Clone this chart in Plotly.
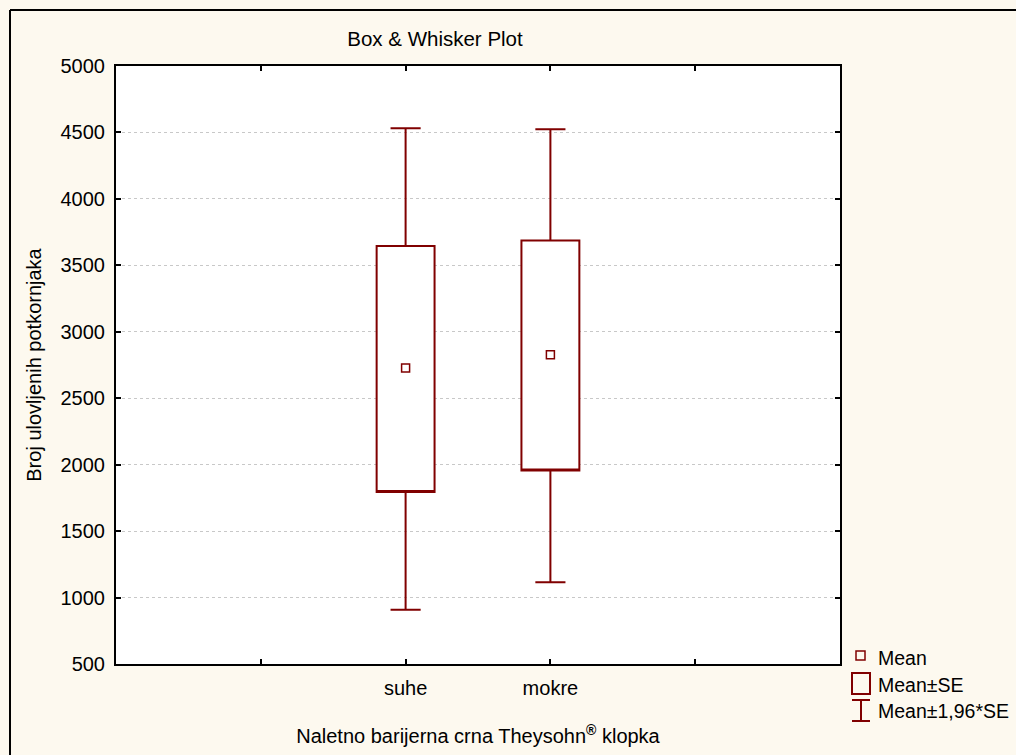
import plotly.graph_objects as go

# ---- data ----
categories = ["suhe", "mokre"]
mean_vals = [2728, 2828]
se_low = [1795, 1956]        # Mean - SE
se_high = [3646, 3686]       # Mean + SE
ci_low = [908, 1116]         # Mean - 1.96*SE
ci_high = [4531, 4524]       # Mean + 1.96*SE

y_ticks = [500, 1000, 1500, 2000, 2500, 3000, 3500, 4000, 4500, 5000]
legend_labels = ["Mean", "Mean±SE", "Mean±1,96*SE"]

# categories sit at slots 2..N+1 of a numeric axis spanning 0..N+3 (one empty slot each side)
cat_pos = [i + 2 for i in range(len(categories))]
slot_ticks = list(range(1, len(categories) + 3))

RED = "#800000"
BG = "#FDF9EF"
FONT = "Arial, Liberation Sans, sans-serif"

fig = go.Figure()

for i, c in enumerate(categories):
    fig.add_trace(go.Box(
        x=[cat_pos[i]],
        q1=[se_low[i]], median=[se_low[i]], q3=[se_high[i]],
        lowerfence=[ci_low[i]], upperfence=[ci_high[i]],
        width=0.4, whiskerwidth=0.52,
        fillcolor="white",
        line=dict(color=RED, width=2),
        showlegend=False, hoverinfo="skip", name=c,
    ))

fig.add_trace(go.Scatter(
    x=cat_pos, y=mean_vals, mode="markers",
    marker=dict(symbol="square-open", size=8, color=RED, line=dict(width=1.5, color=RED)),
    showlegend=False, hoverinfo="skip", name="Mean",
))

# ---- helpers for paper-coordinate decorations ----
L, R, T, B = 116, 840, 66, 664
def px(xp):
    return (xp - L) / (R - L)
def py(yp):
    return (B - yp) / (B - T)

shapes = []
# outer frame (only left and top edges visible in the reference)
shapes.append(dict(type="line", xref="paper", yref="paper",
                   x0=px(10), x1=px(1030), y0=py(10), y1=py(10),
                   line=dict(color="black", width=2), layer="below"))
shapes.append(dict(type="line", xref="paper", yref="paper",
                   x0=px(10), x1=px(10), y0=py(10), y1=py(770),
                   line=dict(color="black", width=2), layer="below"))

# manual legend symbols
shapes.append(dict(type="rect", xref="paper", yref="paper",
                   x0=px(856), x1=px(865), y0=py(660), y1=py(651),
                   line=dict(color=RED, width=1.5)))
shapes.append(dict(type="rect", xref="paper", yref="paper",
                   x0=px(852), x1=px(870), y0=py(694), y1=py(673),
                   line=dict(color=RED, width=2)))
shapes.append(dict(type="line", xref="paper", yref="paper",
                   x0=px(861), x1=px(861), y0=py(721), y1=py(700),
                   line=dict(color=RED, width=2)))
shapes.append(dict(type="line", xref="paper", yref="paper",
                   x0=px(852), x1=px(870), y0=py(700), y1=py(700),
                   line=dict(color=RED, width=2)))
shapes.append(dict(type="line", xref="paper", yref="paper",
                   x0=px(852), x1=px(870), y0=py(721), y1=py(721),
                   line=dict(color=RED, width=2)))

annotations = []
for lbl, yc in zip(legend_labels, [658, 685, 711]):
    annotations.append(dict(text=lbl, xref="paper", yref="paper",
                            x=px(876), y=py(yc), xanchor="left", yanchor="middle",
                            showarrow=False, font=dict(size=19.5, color="black", family=FONT)))

fig.update_layout(
    width=1016, height=755,
    margin=dict(l=L, r=1016 - R, t=T, b=755 - B),
    paper_bgcolor=BG, plot_bgcolor="white",
    font=dict(family=FONT, size=20, color="black"),
    title=dict(text="Box & Whisker Plot", x=435 / 1016, xanchor="center",
               y=1 - 39 / 755, yanchor="middle", xref="container", yref="container",
               font=dict(size=20.5, color="black")),
    showlegend=False,
    shapes=shapes, annotations=annotations,
)

fig.update_xaxes(
    range=[0, len(categories) + 3], tickmode="array", tickvals=cat_pos, ticktext=categories,
    ticks="inside", ticklen=5, tickcolor="black", tickwidth=1.5,
    minor=dict(tickmode="array", tickvals=slot_ticks, ticks="inside", ticklen=5,
               tickcolor="black", tickwidth=1.5, showgrid=False),
    showline=True, linecolor="black", linewidth=2, mirror="ticks",
    showgrid=False, zeroline=False, ticklabelstandoff=5,
    tickfont=dict(size=20),
    title=dict(text="Naletno barijerna crna Theysohn<sup><b>®</b></sup> klopka",
               font=dict(size=20), standoff=31),
)
fig.update_yaxes(
    range=[500, 5000], tickmode="array", tickvals=y_ticks,
    ticks="inside", ticklen=5, tickcolor="black", tickwidth=1.5,
    showline=True, linecolor="black", linewidth=2, mirror="ticks",
    showgrid=True, gridcolor="#C8C8C8", gridwidth=1, griddash="dot",
    zeroline=False, ticklabelstandoff=5,
    tickfont=dict(size=20),
    title=dict(text="Broj ulovljenih potkornjaka", font=dict(size=20), standoff=14),
)

fig.write_html(
    "out.html",
    config={"displayModeBar": False},
    post_script="document.body.style.margin='0';document.body.style.overflow='hidden';",
)
